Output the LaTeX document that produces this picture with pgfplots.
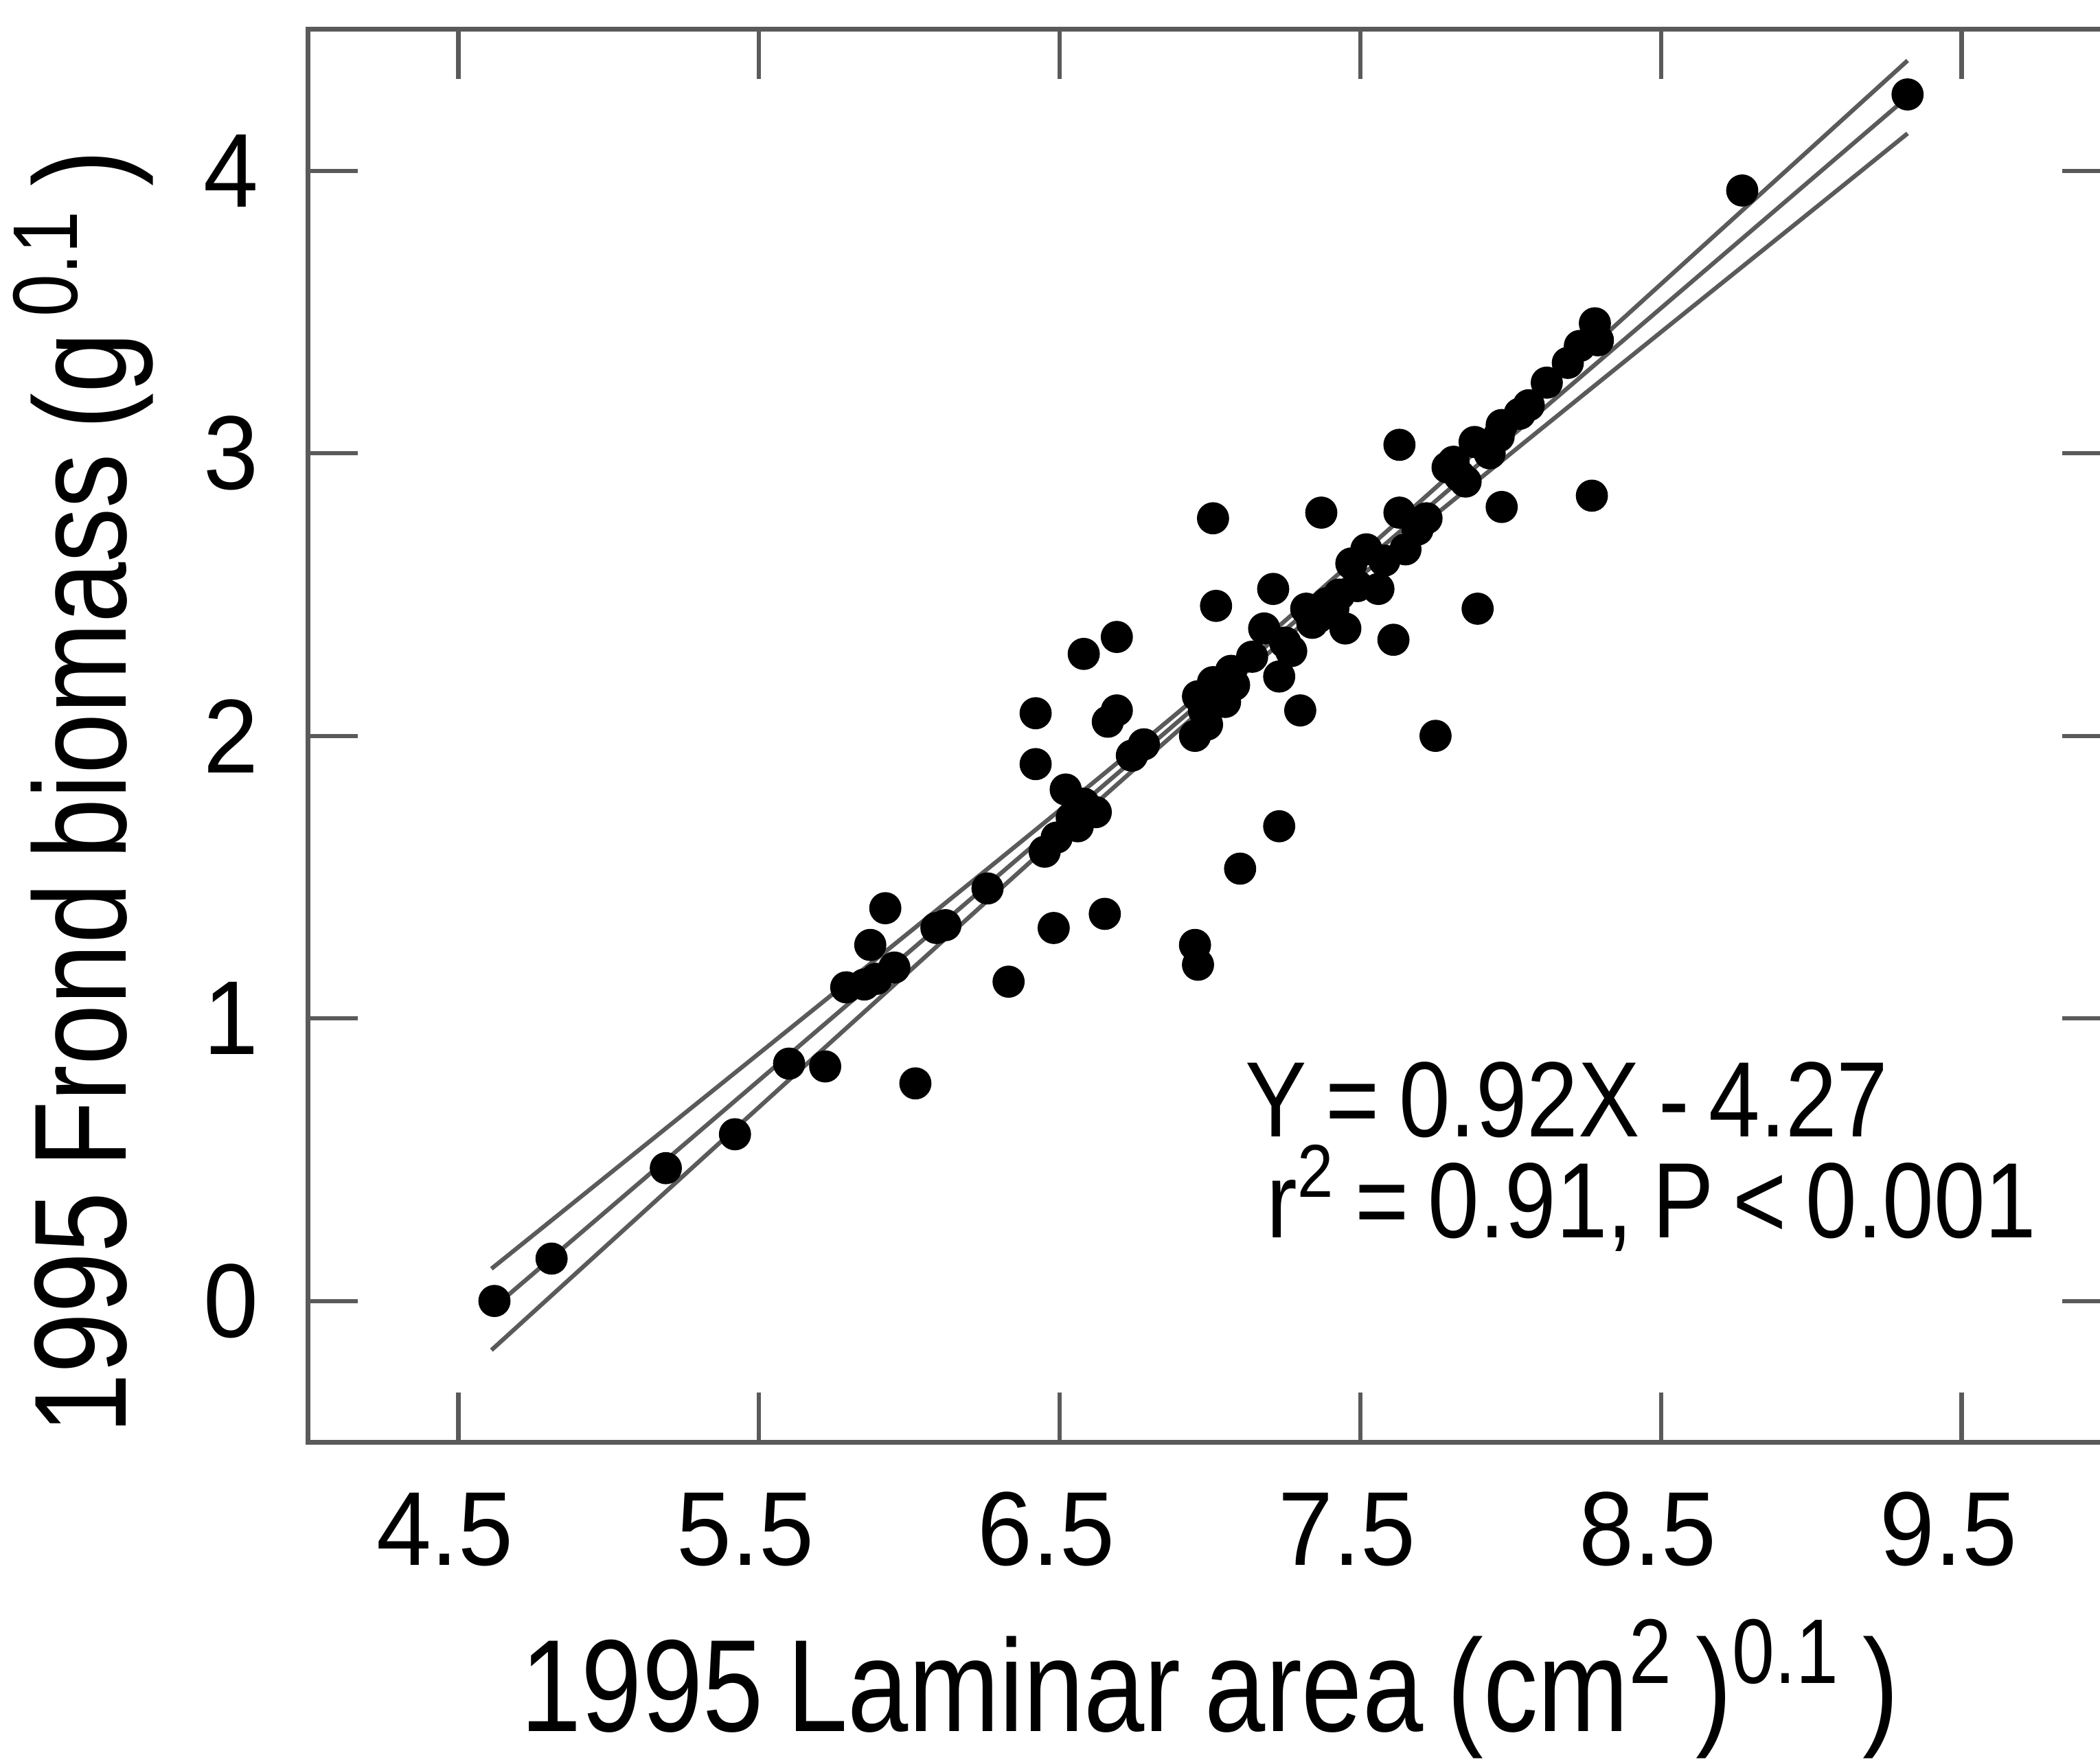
\documentclass[border=0pt]{standalone}
\usepackage{fontspec}
\setmainfont{Liberation Sans}
\newfontfamily\tickfont{Liberation Sans}[FakeStretch=0.94]
\newfontfamily\labfont{Liberation Sans}[FakeStretch=0.83, WordSpace=0.8]
\newfontfamily\annfont{Liberation Sans}[FakeStretch=0.86, WordSpace=0.75]
\usepackage{pgfplots}
\pgfplotsset{compat=1.18}
\definecolor{linegray}{HTML}{5A5A5A}

\begin{document}
\begin{tikzpicture}
\begin{axis}[
    at={(0,0)}, anchor=south west,
    width=336.75pt, height=263.75pt, scale only axis,
    xmin=4, xmax=10, ymin=-0.5, ymax=4.5,
    xtick={4.5,5.5,6.5,7.5,8.5,9.5},
    ytick={0,1,2,3,4},
    tick align=inside,
    major tick length=9.3pt,
    tick style={linegray, line width=0.8pt},
    axis line style={linegray, line width=0.9pt},
    /pgf/number format/assume math mode=true,
    /pgf/number format/fixed,
    /pgf/number format/precision=1,
    xticklabel style={font=\tickfont\fontsize{19.6}{22}\selectfont, anchor=base, inner sep=0pt, yshift=-23pt, xshift=-2.5pt},
    yticklabel style={font=\tickfont\fontsize{19.6}{22}\selectfont, anchor=east, inner sep=0pt, xshift=-9pt},
    xlabel={1995 Laminar area (cm\textsuperscript{2}\,)\textsuperscript{0.1}\,)},
    ylabel={1995 Frond biomass (g\textsuperscript{\,0.1}\,)},
    xlabel style={font=\labfont\fontsize{24.5}{26}\selectfont, at={(axis description cs:0.5,-0.2047)}, anchor=base, inner sep=0pt},
    ylabel style={font=\labfont\fontsize{24.5}{26}\selectfont, at={(axis description cs:-0.101,0.46)}, anchor=base, inner sep=0pt},
]
% regression line and confidence band
\addplot[linegray, line width=0.8pt] coordinates {(4.61,-0.03) (9.32,4.261)};
\addplot[linegray, line width=0.8pt, smooth] coordinates {
    (4.61,0.114) (5.0,0.448) (5.5,0.876) (6.0,1.305) (6.5,1.737) (7.0,2.178)
    (7.5,2.641) (8.0,3.117) (8.5,3.599) (9.0,4.081) (9.32,4.390)};
\addplot[linegray, line width=0.8pt, smooth] coordinates {
    (4.61,-0.174) (5.0,0.203) (5.5,0.686) (6.0,1.167) (6.5,1.647) (7.0,2.117)
    (7.5,2.565) (8.0,2.999) (8.5,3.429) (9.0,3.857) (9.32,4.132)};
% observations
\addplot[only marks, mark=*, mark size=2.8pt, black] table {
x y
4.62 0.00
4.81 0.15
5.19 0.47
5.42 0.59
5.60 0.84
5.72 0.83
6.02 0.77
5.79 1.11
5.85 1.12
5.87 1.26
5.92 1.39
5.89 1.14
5.95 1.18
6.09 1.32
6.12 1.33
6.26 1.46
6.33 1.13
6.48 1.32
6.42 2.08
6.42 1.90
6.58 2.29
6.69 2.35
6.66 2.05
6.69 2.09
6.65 1.37
6.52 1.81
6.54 1.71
6.49 1.64
6.58 1.76
6.45 1.59
6.56 1.68
6.62 1.73
6.74 1.93
6.78 1.97
6.96 2.14
6.95 2.00
6.98 2.09
6.99 2.04
7.01 2.19
6.95 1.26
6.96 1.19
7.01 2.77
7.02 2.46
7.05 2.12
7.08 2.18
7.10 1.53
7.23 1.68
7.07 2.23
7.14 2.28
7.18 2.38
7.21 2.52
7.23 2.21
7.27 2.30
7.30 2.09
7.25 2.33
7.32 2.45
7.34 2.40
7.36 2.42
7.39 2.47
7.41 2.45
7.43 2.50
7.37 2.79
7.45 2.38
7.47 2.61
7.49 2.53
7.52 2.66
7.56 2.52
7.58 2.62
7.61 2.34
7.63 3.03
7.63 2.79
7.65 2.66
7.69 2.73
7.72 2.77
7.75 2.00
7.79 2.95
7.81 2.97
7.83 2.92
7.85 2.90
7.89 2.45
7.88 3.04
7.92 3.02
7.93 3.00
7.96 3.06
7.97 3.10
7.97 2.81
8.03 3.14
8.06 3.17
8.12 3.25
8.19 3.32
8.23 3.38
8.28 3.46
8.27 2.85
8.29 3.40
8.77 3.93
9.32 4.27
};
% fit statistics, two lines in one block
\node[anchor=base west, inner sep=0pt] at (axis cs:7.114,0.581) {%
  \parbox[t]{160pt}{\annfont\fontsize{20}{18.8}\selectfont\lineskiplimit=-30pt\raggedright
    Y = 0.92X - 4.27\\
    \hspace*{4pt}r\textsuperscript{2} = 0.91, P < 0.001}};
\end{axis}
\pgfresetboundingbox
\useasboundingbox (-57.5pt,-60pt) rectangle (334.5pt,269.25pt);
\end{tikzpicture}
\end{document}
